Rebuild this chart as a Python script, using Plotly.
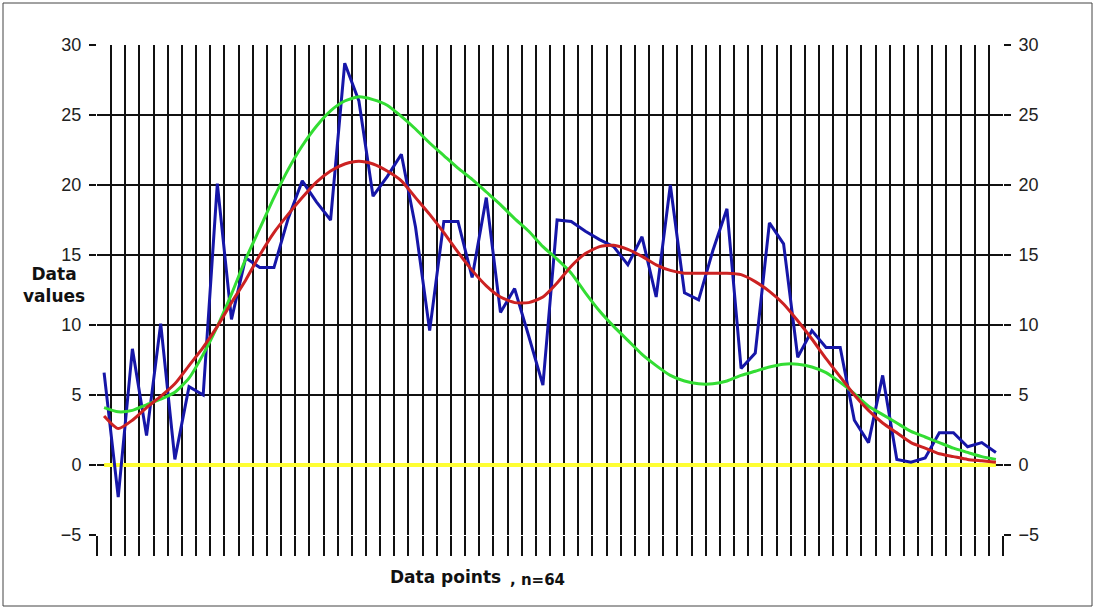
import plotly.graph_objects as go

n_points = 64
x_idx = list(range(1, n_points + 1))

blue_vals = [6.6, -2.3, 8.3, 2.1, 10.1, 0.4, 5.6, 5.0, 20.1, 10.4,
             14.8, 14.1, 14.1, 17.6, 20.3, 18.8, 17.5, 28.7, 26.0, 19.2,
             20.6, 22.2, 17.0, 9.6, 17.4, 17.4, 13.4, 19.1, 10.9, 12.6,
             9.2, 5.7, 17.5, 17.4, 16.7, 16.1, 15.6, 14.3, 16.3, 12.0,
             20.0, 12.3, 11.8, 15.3, 18.3, 6.9, 8.0, 17.3, 15.8, 7.7,
             9.6, 8.4, 8.4, 3.2, 1.6, 6.4, 0.4, 0.2, 0.5, 2.3,
             2.3, 1.3, 1.6, 0.9]

red_vals = [3.5, 2.6, 3.2, 4.1, 4.9, 5.8, 7.1, 8.4, 9.9, 11.6,
            13.2, 15.0, 16.6, 17.9, 19.1, 20.2, 21.0, 21.5, 21.7, 21.5,
            21.0, 20.3, 19.1, 17.9, 16.6, 15.2, 13.9, 12.8, 12.0, 11.6,
            11.6, 12.0, 13.0, 14.2, 15.1, 15.6, 15.7, 15.4, 14.9, 14.3,
            13.9, 13.7, 13.7, 13.7, 13.7, 13.6, 13.1, 12.4, 11.5, 10.3,
            9.0, 7.6, 6.3, 5.0, 3.9, 3.0, 2.3, 1.6, 1.2, 0.8,
            0.6, 0.4, 0.3, 0.2]

green_vals = [4.1, 3.8, 3.9, 4.3, 4.7, 5.2, 6.2, 7.9, 9.9, 12.2,
              14.7, 16.9, 19.1, 21.1, 22.8, 24.2, 25.3, 26.0, 26.3, 26.1,
              25.7, 24.9, 24.0, 23.0, 22.1, 21.2, 20.4, 19.5, 18.6, 17.6,
              16.7, 15.6, 14.7, 13.7, 12.3, 11.0, 9.9, 8.9, 7.9, 7.1,
              6.4, 6.0, 5.8, 5.8, 6.0, 6.4, 6.7, 7.0, 7.2, 7.2,
              7.0, 6.6, 5.9, 5.1, 4.2, 3.6, 3.0, 2.4, 2.0, 1.6,
              1.2, 0.9, 0.6, 0.4]

yellow_vals = [0.0] * n_points

y_ticks = [-5, 0, 5, 10, 15, 20, 25, 30]
x_grid = [i + 0.5 for i in range(0, n_points + 1)]

fig = go.Figure()
fig.add_trace(go.Scatter(x=x_idx, y=yellow_vals, mode="lines",
                         line=dict(color="#FFFF33", width=4), hoverinfo="skip"))
fig.add_trace(go.Scatter(x=x_idx, y=blue_vals, mode="lines",
                         line=dict(color="#1616A8", width=3)))
fig.add_trace(go.Scatter(x=x_idx, y=green_vals, mode="lines",
                         line=dict(color="#33DD33", width=3, shape="spline", smoothing=0.6)))
fig.add_trace(go.Scatter(x=x_idx, y=red_vals, mode="lines",
                         line=dict(color="#CC2222", width=3, shape="spline", smoothing=0.6)))
# invisible trace to activate the right-hand axis
fig.add_trace(go.Scatter(x=[x_idx[0], x_idx[-1]], y=[y_ticks[0], y_ticks[-1]],
                         yaxis="y2", mode="lines", line=dict(width=0),
                         opacity=0, hoverinfo="skip"))

axis_font = dict(family="Liberation Sans, Arial, sans-serif", size=18, color="#222222")

fig.update_layout(
    width=1096, height=610,
    margin=dict(l=97, r=93, t=45, b=75),
    paper_bgcolor="white", plot_bgcolor="white",
    showlegend=False,
    xaxis=dict(range=[0.5, 64.5], tickmode="array", tickvals=x_grid,
               showticklabels=False, ticks="outside", ticklen=20,
               tickcolor="#111111", tickwidth=1.5,
               showgrid=True, gridcolor="#111111", gridwidth=1.5,
               zeroline=False, showline=False),
    yaxis=dict(range=[-5, 30], tickmode="array", tickvals=y_ticks,
               ticks="outside", ticklen=7, tickcolor="#111111", tickwidth=1.5,
               ticklabelstandoff=4,
               showgrid=True, gridcolor="#111111", gridwidth=1.5,
               zeroline=False, showline=False, tickfont=axis_font),
    yaxis2=dict(range=[-5, 30], tickmode="array", tickvals=y_ticks,
                overlaying="y", side="right",
                ticks="outside", ticklen=7, tickcolor="#111111", tickwidth=1.5,
                ticklabelstandoff=4,
                showgrid=False, zeroline=False, showline=False, tickfont=axis_font),
    font=dict(family="DejaVu Sans, sans-serif"),
)

fig.add_annotation(text="<b>Data</b><br><b>values</b>", xref="paper", yref="paper",
                   x=(54 - 97) / 906, y=(535 - 285) / 490, showarrow=False,
                   xanchor="center", yanchor="middle", align="center",
                   font=dict(family="DejaVu Sans, sans-serif", size=17, color="#111111"))
fig.add_annotation(text="<b>Data points</b>", xref="paper", yref="paper",
                   x=(388 - 97) / 906, y=-(589 - 535) / 490, showarrow=False,
                   xanchor="left", yanchor="bottom",
                   font=dict(family="DejaVu Sans, sans-serif", size=17, color="#111111"))
fig.add_annotation(text="<b>, n=64</b>", xref="paper", yref="paper",
                   x=(508 - 97) / 906, y=-(591 - 535) / 490, showarrow=False,
                   xanchor="left", yanchor="bottom",
                   font=dict(family="DejaVu Sans, sans-serif", size=15, color="#111111"))

fig.add_shape(type="rect", xref="paper", yref="paper",
              x0=(3 - 97) / 906, x1=(1092 - 97) / 906,
              y0=-(606 - 535) / 490, y1=1 + (45 - 3) / 490,
              line=dict(color="#444444", width=1), layer="below")

fig.write_html("out.html", config={"displayModeBar": False},
               post_script="document.body.style.margin='0px';")
